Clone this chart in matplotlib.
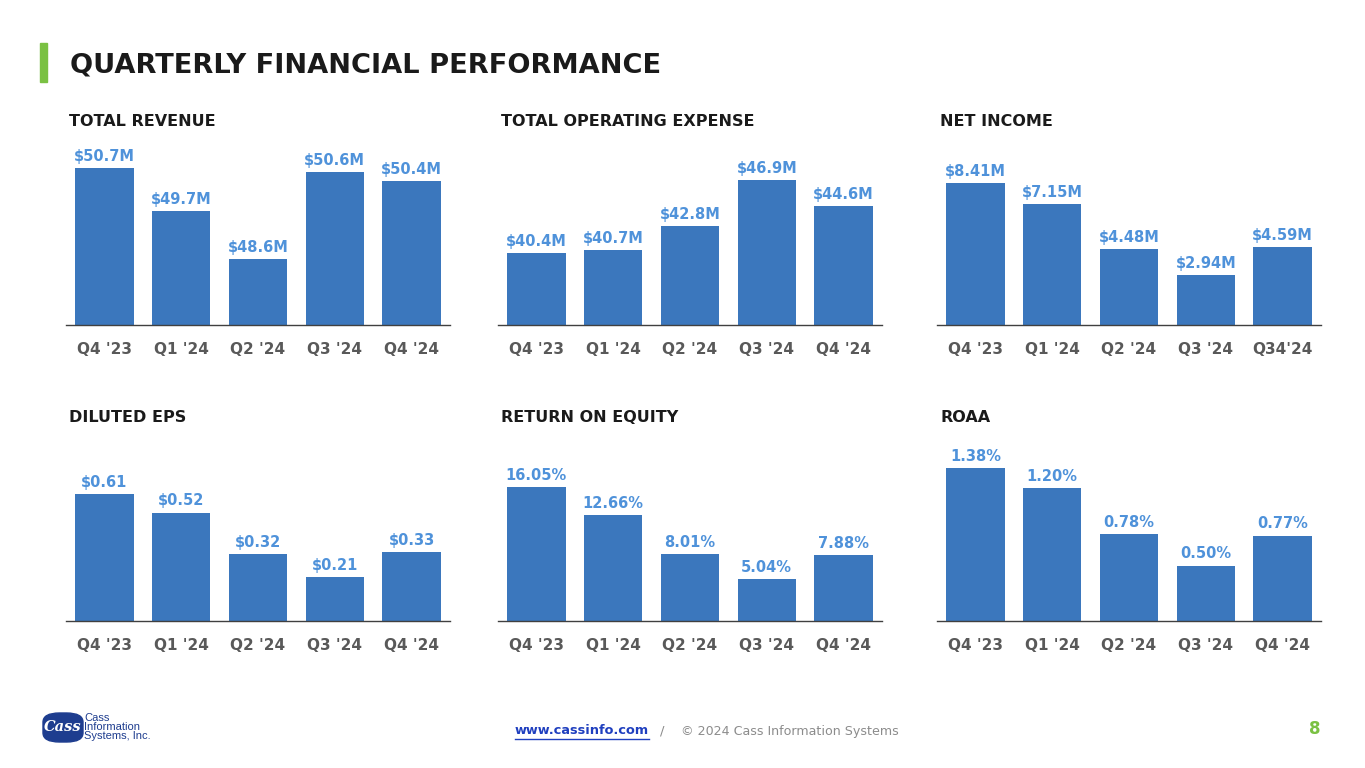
import matplotlib.pyplot as plt
from matplotlib.patches import Rectangle, FancyBboxPatch
from matplotlib.lines import Line2D

W, H = 1365, 768

quarters = ["Q4 '23", "Q1 '24", "Q2 '24", "Q3 '24", "Q4 '24"]
quarters_ni = ["Q4 '23", "Q1 '24", "Q2 '24", "Q3 '24", "Q34'24"]

revenue = [50.7, 49.7, 48.6, 50.6, 50.4]
op_expense = [40.4, 40.7, 42.8, 46.9, 44.6]
net_income = [8.41, 7.15, 4.48, 2.94, 4.59]
eps = [0.61, 0.52, 0.32, 0.21, 0.33]
roe = [16.05, 12.66, 8.01, 5.04, 7.88]
roaa = [1.38, 1.20, 0.78, 0.50, 0.77]

BAR = "#3b77bd"
LBL = "#4f92da"
TICK = "#595959"

fig = plt.figure(figsize=(W / 100, H / 100), dpi=100)


def px_axes(left, right, top, bottom):
    return fig.add_axes([left / W, 1 - bottom / H, (right - left) / W, (bottom - top) / H])


# (title, values, label format, ticks, x-left px, baseline px, y at baseline, px per unit)
panels = [
    ("TOTAL REVENUE", revenue, "${:.1f}M", quarters, 66, 325, 47.07, 43.3),
    ("TOTAL OPERATING EXPENSE", op_expense, "${:.1f}M", quarters, 498, 325, 34.0, 11.23),
    ("NET INCOME", net_income, "${:.2f}M", quarters_ni, 937, 325, 0.0, 16.9),
    ("DILUTED EPS", eps, "${:.2f}", quarters, 66, 621, 0.0, 208.5),
    ("RETURN ON EQUITY", roe, "{:.2f}%", quarters, 498, 621, 0.0, 8.35),
    ("ROAA", roaa, "{:.2f}%", quarters, 937, 621, 0.0, 111.0),
]

for title, vals, fmt, ticks, x0, base, y0, scale in panels:
    top = base - 190
    ax = px_axes(x0, x0 + 384, top, base)
    ax.bar(range(len(vals)), vals, width=0.76, color=BAR, bottom=0)
    ax.set_xlim(-0.5, 4.5)
    ax.set_ylim(y0, y0 + 190 / scale)
    for i, v in enumerate(vals):
        ax.annotate(fmt.format(v), (i, v), xytext=(0, 3), textcoords="offset points",
                    ha="center", va="bottom", color=LBL, fontsize=10.5, fontweight="bold")
    for s in ["top", "right", "left"]:
        ax.spines[s].set_visible(False)
    ax.spines["bottom"].set_color("#404040")
    ax.spines["bottom"].set_linewidth(1.0)
    ax.set_yticks([])
    ax.set_xticks(range(len(vals)), ticks)
    ax.tick_params(axis="x", length=0, pad=12, labelsize=11, labelcolor=TICK)
    for t in ax.get_xticklabels():
        t.set_fontweight("bold")
    fig.text((x0 + 3) / W, 1 - (base - 203) / H, title, fontsize=11.5, fontweight="bold",
             color="#1a1a1a", va="center", ha="left")

# header
fig.add_artist(Rectangle((40 / W, 1 - 82 / H), 7 / W, 39 / H, color="#7ac143",
                         transform=fig.transFigure))
fig.text(70 / W, 1 - 65 / H, "QUARTERLY FINANCIAL PERFORMANCE", fontsize=19.6,
         fontweight="bold", color="#1a1a1a", va="center", ha="left")

# footer
url = fig.text(515 / W, 1 - 731 / H, "www.cassinfo.com", fontsize=9.3, fontweight="bold",
               color="#1f3fbf", va="center", ha="left")
fig.text(660 / W, 1 - 731 / H, "/", fontsize=9.5, color="#8c8c8c", va="center", ha="left")
fig.text(681 / W, 1 - 731 / H, "\u00a9 2024 Cass Information Systems", fontsize=9.1,
         color="#8c8c8c", va="center", ha="left")
fig.text(1321 / W, 1 - 729 / H, "8", fontsize=12, fontweight="bold", color="#7ac143",
         va="center", ha="right")
fig.canvas.draw()
bb = url.get_window_extent().transformed(fig.transFigure.inverted())
fig.add_artist(Line2D([bb.x0, bb.x1], [bb.y0 - 0.002, bb.y0 - 0.002], color="#1f3fbf",
                      lw=1, transform=fig.transFigure))

# logo
fig.add_artist(FancyBboxPatch((43 / W, 1 - 742 / H), 40 / W, 29 / H,
                              boxstyle="round,pad=0,rounding_size=0.012",
                              color="#1e3d8f", transform=fig.transFigure))
fig.text(63 / W, 1 - 727 / H, "Cass", fontsize=10.5, fontweight="bold", style="italic",
         family="DejaVu Serif", color="white", va="center", ha="center")
fig.text(84 / W, 1 - 727 / H, "Cass\nInformation\nSystems, Inc.", fontsize=8,
         family="Liberation Sans", color="#1e3d8f", va="center", ha="left", linespacing=0.9)

fig.savefig("out.png", dpi=100, facecolor="white")
